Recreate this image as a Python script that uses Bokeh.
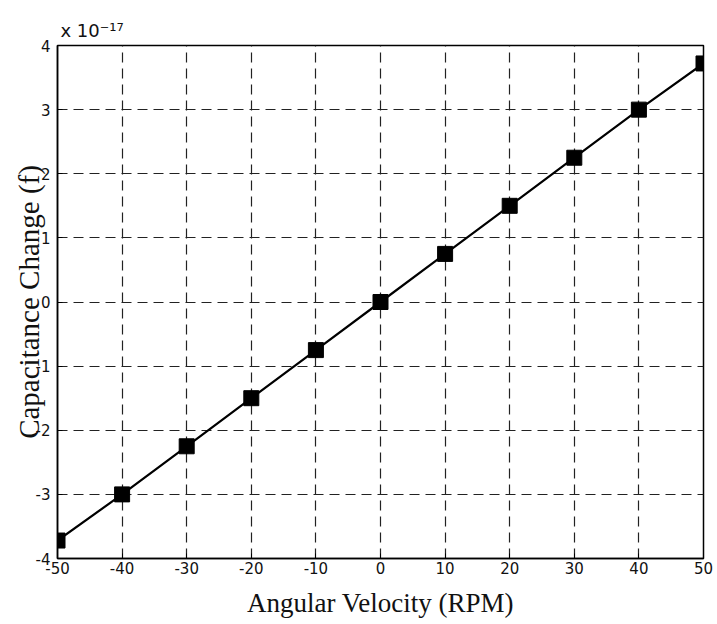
from bokeh.plotting import figure
from bokeh.models import FixedTicker
from bokeh.embed import file_html
from bokeh.resources import INLINE

rpm = [-50, -40, -30, -20, -10, 0, 10, 20, 30, 40, 50]
cap_change = [-3.72, -3.0, -2.25, -1.5, -0.75, 0.0, 0.75, 1.5, 2.25, 3.0, 3.72]
x_ticks = [-50, -40, -30, -20, -10, 0, 10, 20, 30, 40, 50]
y_ticks = [-4, -3, -2, -1, 0, 1, 2, 3, 4]

W, H = 715, 622
BL, BR, BT, BB = 57, 12, 45, 64

p = figure(width=W, height=H, output_backend="svg", toolbar_location=None,
           x_range=(-50, 50), y_range=(-4, 4),
           min_border_left=BL, min_border_right=BR, min_border_top=BT, min_border_bottom=BB)
p.background_fill_color = "white"
p.border_fill_color = "white"
p.outline_line_color = "black"
p.outline_line_width = 1.5

p.title.text = "x 10\u207b\u00b9\u2077"
p.title.align = "left"
p.title.offset = 3
p.title.standoff = 10
p.title.text_font = "DejaVu Sans"
p.title.text_font_size = "18px"
p.title.text_font_style = "normal"
p.title.text_color = "#111111"

p.line(rpm, cap_change, line_color="black", line_width=2.2)
p.scatter(rpm, cap_change, marker="square", size=15, fill_color="black", line_color="black")

for ax in (p.xaxis[0], p.yaxis[0]):
    ax.major_tick_in = 5
    ax.major_tick_out = 0
    ax.minor_tick_in = 0
    ax.minor_tick_out = 0
    ax.axis_line_color = "black"
    ax.axis_line_width = 1.5
    ax.major_label_text_font = "DejaVu Sans"
    ax.major_label_text_font_size = "15px"
    ax.major_label_text_color = "#111111"
    ax.axis_label_text_font = "Liberation Serif"
    ax.axis_label_text_font_style = "normal"
    ax.axis_label_text_color = "#111111"

p.xaxis.ticker = FixedTicker(ticks=x_ticks)
p.yaxis.ticker = FixedTicker(ticks=y_ticks)
p.xaxis.major_label_overrides = {t: str(t) for t in x_ticks}
p.yaxis.major_label_overrides = {t: str(t) for t in y_ticks}
p.xaxis.major_label_standoff = 3
p.yaxis.major_label_standoff = 7
p.xaxis.axis_label = "Angular Velocity (RPM)"
p.xaxis.axis_label_text_font_size = "27px"
p.xaxis.axis_label_standoff = 11
p.yaxis.axis_label = "Capacitance Change (f)"
p.yaxis.axis_label_text_font_size = "29px"
p.yaxis.axis_label_standoff = -12

for g in (p.xgrid[0], p.ygrid[0]):
    g.grid_line_color = "#222222"
    g.grid_line_dash = "10 6"
    g.grid_line_width = 1.2

html = file_html(p, INLINE)
open("out.html", "w").write(html)
